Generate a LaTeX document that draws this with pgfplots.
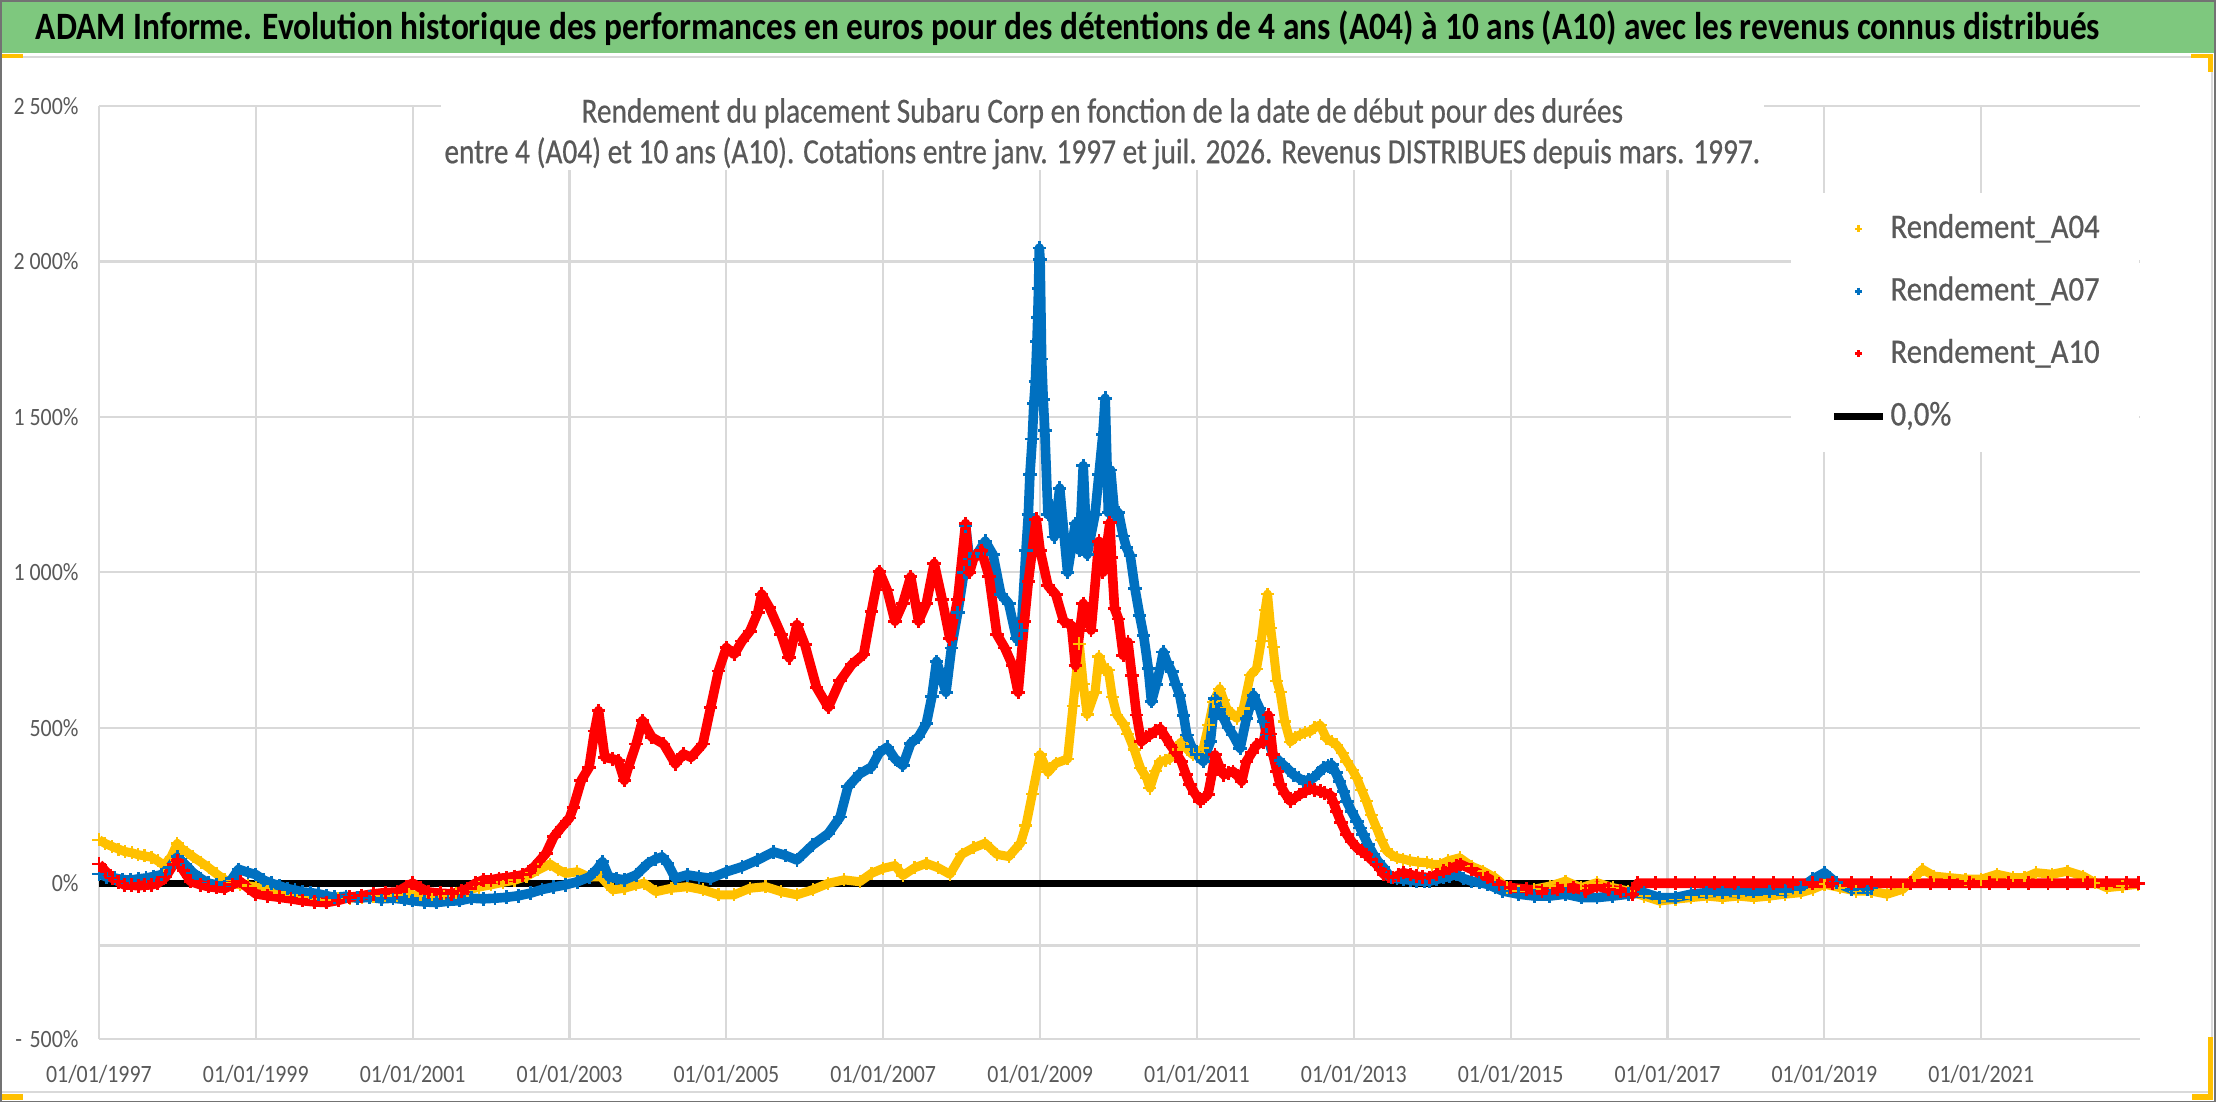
\documentclass[border=0pt]{standalone}
\usepackage{fontspec}
\setmainfont{Carlito}[FakeStretch=0.88]
\newfontfamily\titlefont{Carlito}[FakeStretch=0.862]
\newfontfamily\subfont{Carlito}[FakeStretch=0.83,FakeBold=0.5]
\newfontfamily\legfont{Carlito}[FakeStretch=0.89,FakeBold=0.5]
\usepackage{pgfplots}
\usepackage{pgfplotstable}
\pgfplotsset{compat=1.18}
\definecolor{ycol}{RGB}{255,192,0}
\definecolor{bcol}{RGB}{0,112,192}
\definecolor{rcol}{RGB}{255,0,0}
\definecolor{gridc}{RGB}{217,217,217}
\definecolor{txtc}{RGB}{89,89,89}
\definecolor{barg}{RGB}{126,200,126}
\definecolor{handle}{RGB}{255,192,0}

\pgfplotstableread{
x y
1997.00 140
1997.08 128
1997.17 118
1997.25 110
1997.33 102
1997.42 98
1997.50 92
1997.58 88
1997.67 84
1997.75 72
1997.83 58
1997.92 85
1998.00 128
1998.05 112
1998.12 100
1998.20 85
1998.30 68
1998.40 50
1998.50 30
1998.60 12
1998.70 0
1998.80 -5
1998.90 -8
1999.00 -12
1999.15 -20
1999.30 -30
1999.45 -38
1999.60 -45
1999.75 -50
1999.90 -55
2000.05 -50
2000.20 -48
2000.35 -45
2000.50 -42
2000.65 -40
2000.80 -38
2000.95 -35
2001.10 -40
2001.25 -45
2001.40 -42
2001.55 -32
2001.70 -22
2001.85 -12
2002.00 -5
2002.15 3
2002.30 10
2002.45 22
2002.60 43
2002.75 62
2002.85 45
2002.95 32
2003.10 37
2003.25 20
2003.40 21
2003.55 -21
2003.70 -16
2003.85 -5
2003.95 0
2004.10 -27
2004.30 -16
2004.50 -11
2004.70 -21
2004.90 -37
2005.10 -37
2005.30 -16
2005.50 -11
2005.70 -27
2005.90 -37
2006.10 -21
2006.30 0
2006.50 11
2006.70 5
2006.85 32
2007.00 48
2007.15 57
2007.25 25
2007.40 50
2007.55 64
2007.70 50
2007.85 29
2008.00 93
2008.15 114
2008.30 129
2008.45 93
2008.60 86
2008.75 129
2008.82 186
2008.90 286
2009.00 414
2009.10 357
2009.20 386
2009.35 400
2009.42 571
2009.50 770
2009.55 640
2009.60 543
2009.70 614
2009.75 729
2009.82 686
2009.87 686
2009.92 600
2009.98 541
2010.06 514
2010.12 480
2010.20 430
2010.28 370
2010.36 338
2010.40 306
2010.47 360
2010.53 392
2010.60 395
2010.66 402
2010.73 430
2010.80 455
2010.88 430
2010.95 413
2011.02 420
2011.08 434
2011.15 510
2011.21 584
2011.29 626
2011.34 590
2011.38 562
2011.45 545
2011.51 530
2011.59 562
2011.68 669
2011.76 690
2011.82 780
2011.87 880
2011.90 930
2011.94 820
2011.97 760
2012.02 650
2012.06 615
2012.12 520
2012.19 455
2012.25 470
2012.31 477
2012.38 485
2012.44 488
2012.50 500
2012.57 509
2012.65 466
2012.72 455
2012.78 445
2012.85 420
2012.91 392
2012.98 365
2013.04 338
2013.10 300
2013.16 264
2013.22 220
2013.29 178
2013.35 140
2013.42 104
2013.48 92
2013.55 82
2013.63 78
2013.72 72
2013.82 68
2013.93 66
2014.00 61
2014.10 60
2014.20 72
2014.35 82
2014.50 55
2014.65 39
2014.80 18
2014.95 -14
2015.10 -25
2015.30 -19
2015.50 -9
2015.70 7
2015.90 -14
2016.10 2
2016.30 -14
2016.50 -25
2016.70 -41
2016.90 -57
2017.10 -51
2017.30 -46
2017.50 -41
2017.70 -46
2017.90 -41
2018.10 -46
2018.30 -41
2018.50 -35
2018.70 -30
2018.85 -19
2019.00 -3
2019.20 -14
2019.40 -25
2019.60 -25
2019.80 -35
2020.00 -19
2020.15 18
2020.25 45
2020.40 23
2020.60 18
2020.80 13
2021.00 13
2021.20 29
2021.40 18
2021.55 18
2021.70 34
2021.90 29
2022.10 39
2022.30 23
2022.45 2
2022.60 -14
2022.80 -9
2023.00 -3
}\tabA

\pgfplotstableread{
x y
1997.00 30
1997.10 20
1997.20 17
1997.30 12
1997.40 10
1997.50 14
1997.60 17
1997.70 22
1997.80 28
1997.90 50
1998.00 85
1998.10 60
1998.20 34
1998.30 15
1998.40 0
1998.50 -5
1998.60 -10
1998.70 15
1998.78 45
1998.90 35
1999.00 28
1999.10 10
1999.20 0
1999.30 -8
1999.40 -17
1999.50 -22
1999.60 -28
1999.70 -30
1999.80 -34
1999.90 -40
2000.00 -45
2000.15 -42
2000.30 -48
2000.45 -45
2000.60 -50
2000.75 -48
2000.90 -52
2001.00 -56
2001.15 -60
2001.30 -62
2001.45 -58
2001.60 -56
2001.75 -48
2001.90 -50
2002.05 -48
2002.20 -45
2002.35 -40
2002.50 -32
2002.65 -20
2002.80 -12
2002.95 -5
2003.10 5
2003.25 20
2003.35 45
2003.42 69
2003.50 21
2003.60 15
2003.70 11
2003.85 27
2004.00 64
2004.10 78
2004.18 85
2004.25 64
2004.35 16
2004.50 27
2004.65 21
2004.80 16
2005.00 37
2005.20 53
2005.40 75
2005.60 101
2005.75 90
2005.90 75
2006.10 123
2006.30 160
2006.45 213
2006.55 310
2006.70 352
2006.85 374
2006.95 420
2007.05 438
2007.15 400
2007.25 379
2007.35 450
2007.45 471
2007.55 514
2007.62 600
2007.68 714
2007.75 657
2007.80 614
2007.87 757
2007.95 871
2008.03 1000
2008.05 1150
2008.10 1043
2008.20 1060
2008.30 1100
2008.40 1057
2008.50 929
2008.60 900
2008.70 786
2008.76 814
2008.82 1071
2008.85 1186
2008.87 1314
2008.90 1429
2008.92 1543
2008.94 1614
2008.96 1743
2008.97 1821
2008.98 1914
2008.99 2043
2009.00 2007
2009.02 1686
2009.04 1557
2009.06 1457
2009.10 1186
2009.15 1214
2009.18 1114
2009.25 1271
2009.35 1000
2009.45 1157
2009.50 1071
2009.55 1343
2009.60 1057
2009.70 1186
2009.75 1314
2009.80 1443
2009.83 1560
2009.87 1192
2009.90 1329
2009.95 1186
2010.00 1192
2010.06 1117
2010.10 1080
2010.15 1053
2010.21 947
2010.27 861
2010.32 797
2010.38 690
2010.42 584
2010.48 640
2010.53 690
2010.57 744
2010.62 710
2010.68 680
2010.73 640
2010.78 605
2010.83 540
2010.87 477
2010.93 440
2011.00 413
2011.08 392
2011.17 455
2011.23 594
2011.28 560
2011.34 530
2011.40 500
2011.46 477
2011.55 434
2011.63 530
2011.72 605
2011.80 562
2011.85 520
2011.89 477
2011.97 413
2012.04 395
2012.10 381
2012.17 365
2012.23 349
2012.30 338
2012.36 328
2012.42 333
2012.48 338
2012.55 355
2012.61 370
2012.67 378
2012.72 381
2012.77 355
2012.82 328
2012.87 296
2012.91 264
2012.97 232
2013.04 200
2013.08 178
2013.12 157
2013.18 125
2013.25 93
2013.31 70
2013.38 50
2013.43 32
2013.48 18
2013.55 15
2013.63 13
2013.72 10
2013.80 7
2013.90 7
2013.97 7
2014.05 12
2014.14 18
2014.22 22
2014.31 29
2014.40 15
2014.50 7
2014.60 2
2014.70 -3
2014.80 -14
2014.90 -25
2015.10 -35
2015.30 -41
2015.50 -41
2015.70 -35
2015.90 -46
2016.10 -46
2016.30 -41
2016.50 -35
2016.70 -30
2016.90 -46
2017.10 -46
2017.30 -35
2017.50 -30
2017.70 -30
2017.90 -30
2018.10 -25
2018.30 -25
2018.50 -25
2018.70 -14
2018.85 13
2019.00 34
2019.15 2
2019.35 -19
2019.55 -19
2019.60 -15
}\tabB

\pgfplotstableread{
x y
1997.00 62
1997.08 40
1997.17 17
1997.25 5
1997.33 -6
1997.42 -6
1997.50 -8
1997.58 -6
1997.67 -5
1997.75 0
1997.85 20
1997.95 60
1998.00 73
1998.08 40
1998.17 6
1998.30 -5
1998.40 -11
1998.50 -14
1998.60 -17
1998.70 -5
1998.80 6
1998.90 -15
1999.00 -34
1999.15 -40
1999.30 -45
1999.45 -50
1999.60 -56
1999.75 -60
1999.90 -62
2000.05 -55
2000.20 -45
2000.35 -40
2000.50 -34
2000.65 -30
2000.80 -28
2000.92 -10
2001.00 0
2001.10 -15
2001.20 -28
2001.35 -32
2001.50 -34
2001.62 -25
2001.70 -17
2001.80 0
2001.90 11
2002.00 11
2002.10 16
2002.20 18
2002.30 22
2002.40 27
2002.50 40
2002.55 53
2002.70 96
2002.80 150
2002.90 181
2003.00 210
2003.05 245
2003.15 331
2003.25 373
2003.32 490
2003.37 555
2003.45 405
2003.55 400
2003.62 395
2003.70 331
2003.75 373
2003.85 448
2003.93 523
2004.05 470
2004.20 448
2004.35 384
2004.45 416
2004.55 405
2004.70 448
2004.80 566
2004.90 683
2005.00 758
2005.10 736
2005.20 779
2005.30 811
2005.40 870
2005.45 930
2005.55 886
2005.70 800
2005.80 725
2005.90 832
2006.00 768
2006.15 630
2006.30 566
2006.45 651
2006.60 704
2006.75 736
2006.85 875
2006.95 1003
2007.05 943
2007.15 843
2007.25 900
2007.35 986
2007.45 843
2007.55 900
2007.65 1029
2007.75 914
2007.85 786
2007.95 914
2008.05 1157
2008.10 1000
2008.15 1043
2008.25 1071
2008.35 986
2008.45 800
2008.55 757
2008.65 700
2008.72 614
2008.80 843
2008.85 971
2008.95 1171
2009.00 1071
2009.10 957
2009.20 929
2009.30 843
2009.40 829
2009.45 700
2009.55 900
2009.65 814
2009.75 1100
2009.80 1000
2009.85 1086
2009.89 1160
2009.91 1048
2009.95 883
2010.00 850
2010.06 733
2010.12 776
2010.17 669
2010.23 541
2010.29 455
2010.35 470
2010.40 477
2010.47 490
2010.53 498
2010.60 470
2010.66 445
2010.73 420
2010.80 392
2010.86 350
2010.91 317
2010.97 290
2011.04 264
2011.09 275
2011.14 285
2011.19 350
2011.23 413
2011.28 380
2011.34 349
2011.40 355
2011.46 360
2011.52 345
2011.57 328
2011.63 392
2011.70 420
2011.76 445
2011.85 455
2011.91 541
2011.94 480
2011.97 413
2012.02 360
2012.06 317
2012.12 290
2012.19 264
2012.25 275
2012.31 285
2012.38 296
2012.44 306
2012.50 300
2012.57 296
2012.63 290
2012.70 285
2012.74 260
2012.78 232
2012.84 195
2012.91 157
2012.97 135
2013.04 114
2013.10 103
2013.16 93
2013.22 77
2013.29 61
2013.34 45
2013.38 29
2013.44 22
2013.50 18
2013.57 26
2013.63 34
2013.72 28
2013.80 23
2013.88 20
2013.97 18
2014.05 28
2014.14 39
2014.22 47
2014.31 55
2014.36 61
2014.50 45
2014.70 18
2014.85 -3
2015.00 -14
2015.20 -19
2015.40 -25
2015.60 -19
2015.80 -14
2015.95 -25
2016.10 -9
2016.25 -19
2016.40 -25
2016.55 -35
2016.62 0
2016.85 0
2017.10 0
2017.35 0
2017.60 0
2017.85 0
2018.10 0
2018.35 0
2018.60 0
2018.85 0
2019.10 0
2019.35 0
2019.60 0
2019.85 0
2020.10 0
2020.35 0
2020.60 0
2020.85 0
2021.10 0
2021.35 0
2021.60 0
2021.85 0
2022.10 0
2022.35 0
2022.60 0
2022.85 0
2023.00 0
}\tabC

\begin{document}
\begin{tikzpicture}
\useasboundingbox (0,0) rectangle (784pt,390pt);
% title bar
\fill[barg] (0,371.15pt) rectangle (784pt,390pt);
\draw[green!30!black!60,line width=0.6pt] (0,389.7pt) -- (784pt,389.7pt);
\node[anchor=base west,inner sep=0pt,font=\titlefont\fontsize{13.7}{16}\selectfont\bfseries] at (12.5pt,375.85pt)
 {ADAM Informe. Evolution historique des performances en euros pour des détentions de 4 ans (A04) à 10 ans (A10) avec les revenus connus distribués};
% chart frame
\draw[gridc,line width=0.7pt] (0.35pt,369.75pt) rectangle (782.5pt,3.5pt);

\begin{axis}[
  at={(35pt,22.5pt)}, anchor=south west,
  scale only axis, width=722pt, height=330pt,
  xmin=1997, xmax=2023.02, ymin=-500, ymax=2500,
  axis line style={draw=none},
  major tick style={draw=none},
  grid=major,
  major grid style={gridc,line width=0.75pt},
  xtick={1997,1999,...,2021},
  xticklabels={01/01/1997,01/01/1999,01/01/2001,01/01/2003,01/01/2005,01/01/2007,01/01/2009,01/01/2011,01/01/2013,01/01/2015,01/01/2017,01/01/2019,01/01/2021},
  ytick={-500,0,500,1000,1500,2000,2500},
  yticklabels={-\hspace{0.3em}500\%,0\%,500\%,1 000\%,1 500\%,2 000\%,2 500\%},
  extra y ticks={-200},
  extra y tick labels={},
  extra y tick style={grid=major},
  tick label style={font=\fontsize{8.8}{10}\selectfont, text=txtc},
  yticklabel style={anchor=east, inner sep=0pt, xshift=-7pt},
  xticklabel style={anchor=north, inner sep=0pt, yshift=-9pt},
  legend cell align=left,
  legend style={at={(1,0.9076)}, anchor=north east, draw=none, fill=white,
    text=txtc, font=\legfont\fontsize{12.2}{14}\selectfont,
    inner xsep=14pt, inner ysep=7pt, row sep=10.6pt,
    nodes={inner sep=0pt, text height=9pt, text depth=2.5pt},
    /tikz/every odd column/.append style={column sep=1.5pt}},
  legend image post style={mark size=1.3pt},
]
\addplot[black, line width=2.6pt, forget plot] coordinates {(1997,0) (2023.02,0)};
\addplot[ycol, line width=3.2pt, line join=round, forget plot] table[x=x,y=y] {\tabA};
\addplot[ycol, only marks, mark=+, mark size=2.3pt, mark options={line width=0.8pt}] table[x=x,y=y] {\tabA};
\addlegendentry{Rendement\_A04}
\addplot[bcol, line width=3.4pt, line join=round, forget plot] table[x=x,y=y] {\tabB};
\addplot[bcol, only marks, mark=+, mark size=2.4pt, mark options={line width=1pt}] table[x=x,y=y] {\tabB};
\addlegendentry{Rendement\_A07}
\addplot[rcol, line width=3.4pt, line join=round, forget plot] table[x=x,y=y] {\tabC};
\addplot[rcol, only marks, mark=+, mark size=2.4pt, mark options={line width=1pt}] table[x=x,y=y] {\tabC};
\addlegendentry{Rendement\_A10}
\addlegendimage{black, line width=2.6pt}
\addlegendentry{0,0\%}
\end{axis}

% subtitle box
\fill[white] (156pt,367.5pt) rectangle (624pt,330pt);
\node[anchor=base,inner sep=0pt,text=txtc,font=\subfont\fontsize{12.5}{15}\selectfont] at (390pt,346.6pt)
 {Rendement du placement Subaru Corp en fonction de la date de début pour des durées};
\node[anchor=base,inner sep=0pt,text=txtc,font=\subfont\fontsize{12.5}{15}\selectfont] at (390pt,332.25pt)
 {entre 4 (A04) et 10 ans (A10). Cotations entre janv. 1997 et juil. 2026. Revenus DISTRIBUES depuis mars. 1997.};

% selection handles
\fill[handle] (0,371pt) rectangle (8pt,369.5pt);
\fill[handle] (775pt,371pt) rectangle (783pt,369.5pt);
\fill[handle] (781pt,371pt) rectangle (783pt,364.5pt);
\fill[handle] (781pt,23pt) rectangle (783pt,1pt);
\fill[handle] (775.5pt,3pt) rectangle (783pt,1pt);
\fill[handle] (0,3pt) rectangle (8pt,1pt);
% outer border
\draw[black!55,line width=0.6pt] (0.3pt,0.3pt) rectangle (783.7pt,389.7pt);
\end{tikzpicture}
\end{document}
